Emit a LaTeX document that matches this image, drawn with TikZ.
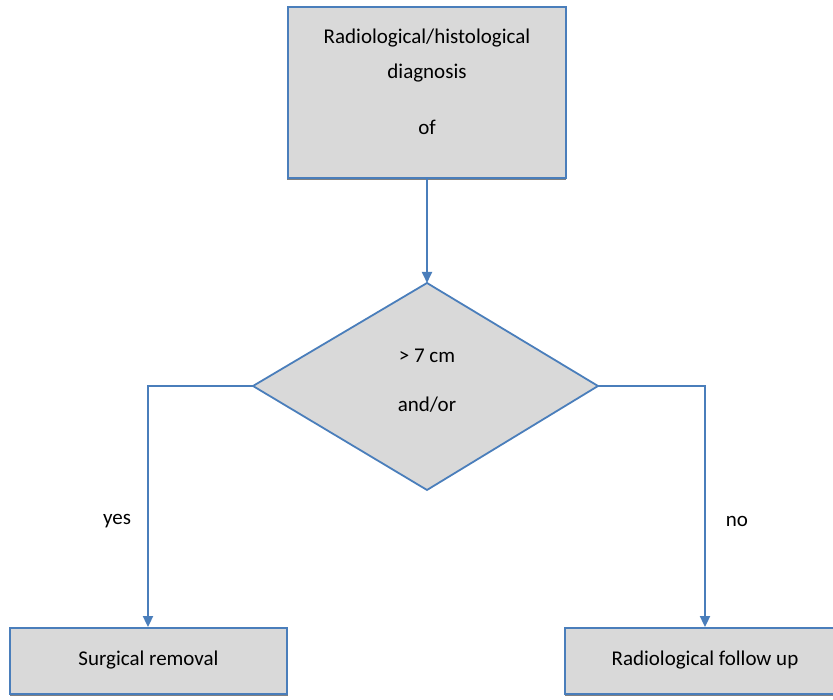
\documentclass[tikz,border=0pt]{standalone}
\usepackage{fontspec}
\setmainfont{Carlito}
\usetikzlibrary{arrows.meta,shapes.geometric}
\definecolor{lineblue}{HTML}{4A7EBB}
\definecolor{boxgray}{HTML}{D9D9D9}
\definecolor{shadowgray}{HTML}{808080}
\tikzset{
  x=1pt,y=1pt,
  boxstyle/.style={draw=lineblue,line width=1.8pt,fill=boxgray},
  conn/.style={draw=lineblue,line width=1.8pt},
  arr/.style={conn,-{Triangle[width=10pt,length=11pt]}},
  lbl/.style={font=\fontsize{21}{24}\selectfont,inner sep=0pt},
  shadowline/.style={draw=shadowgray,line width=1.8pt}
}
\begin{document}
\begin{tikzpicture}
\useasboundingbox (0,0) rectangle (833,700);
% top box
\draw[shadowline] (287,520.5) -- (566,520.5);
\node[boxstyle,minimum width=278pt,minimum height=171pt,inner sep=0pt] (top) at (427,607.5) {};
\node[lbl] (t1) at (427,662) {Radiological/histological};
\node[lbl] (t2) at (427,627) {diagnosis};
\node[lbl] (t3) at (427,573) {of};
% diamond
\coordinate (dT) at (427,417);
\coordinate (dL) at (253,314);
\coordinate (dR) at (598,314);
\coordinate (dB) at (427,210);
\path[boxstyle] (dT) -- (dR) -- (dB) -- (dL) -- cycle;
\node[lbl] (d1) at (427,344) {> 7 cm};
\node[lbl] (d2) at (427,295) {and/or};
% bottom boxes
\draw[shadowline] (10,4.5) -- (288,4.5);
\draw[shadowline] (565,4.5) -- (833,4.5);
\node[boxstyle,minimum width=277pt,minimum height=66pt,inner sep=0pt] (left) at (148.5,39) {};
\node[lbl] (l1) at (148.5,40) {Surgical removal};
\node[boxstyle,minimum width=272pt,minimum height=66pt,inner sep=0pt] (right) at (701,39) {};
\node[lbl] (r1) at (705,40) {Radiological follow up};
% connectors
\draw[arr] (top.south) -- (dT);
\coordinate (lc) at (148,314);
\coordinate (rc) at (705,314);
\draw[arr] (dL) -- (lc) -- (lc |- left.north);
\draw[arr] (dR) -- (rc) -- (rc |- right.north);
\node[lbl] (yes) at (117,179) {yes};
\node[lbl] (no) at (737,179) {no};
\end{tikzpicture}
\end{document}
